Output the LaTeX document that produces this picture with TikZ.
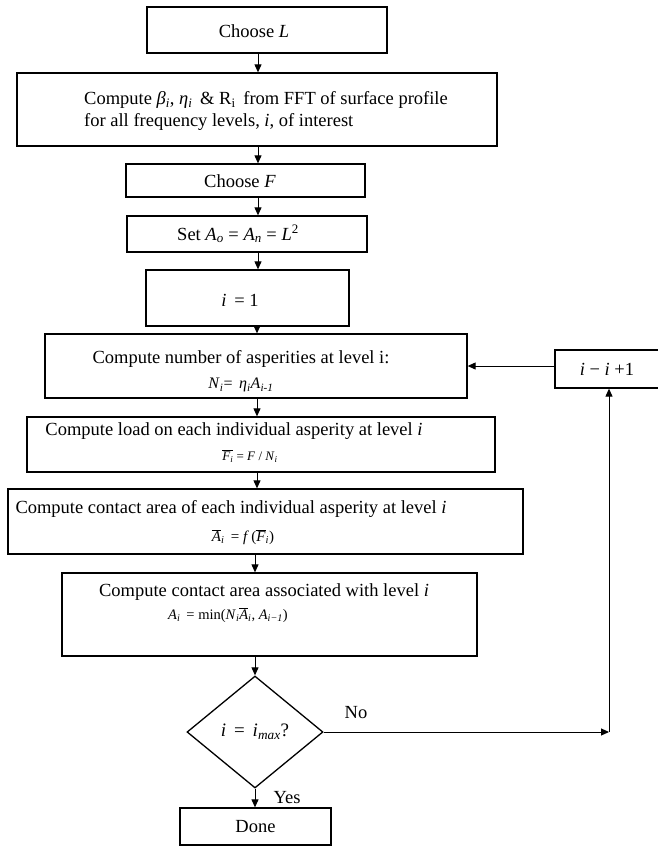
\documentclass[tikz,border=0pt]{standalone}
\usepackage{fontspec}
\setmainfont{Liberation Serif}
\usetikzlibrary{shapes.geometric,arrows.meta}
\newcommand{\vv}[1]{\textit{#1}}
\newcommand{\sbi}[1]{\textsubscript{\textit{#1}}}
\newcommand{\ovl}[1]{$\overline{\mbox{#1}}$}
\begin{document}
\begin{tikzpicture}[x=1pt,y=-1pt,
  box/.style={draw,line width=1.3pt,rectangle,inner sep=0pt},
  txt/.style={inner sep=0pt,align=center,font=\fontsize{18.5}{22}\selectfont},
  frm/.style={inner sep=0pt,font=\fontsize{#1}{#1}\selectfont},
  arr/.style={line width=1pt,-{Triangle[length=8pt,width=7pt]}}]
\useasboundingbox (0,0) rectangle (658,846);
% boxes
\node[box,minimum width=240pt,minimum height=46pt] (L) at (267,30) {};
\node[box,minimum width=480pt,minimum height=73pt] (beta) at (257,109.5) {};
\node[box,minimum width=239pt,minimum height=33pt] (F) at (245.5,180.5) {};
\node[box,minimum width=240pt,minimum height=36pt] (A0) at (247,234) {};
\node[box,minimum width=203pt,minimum height=56pt] (i1) at (247.5,298) {};
\node[box,minimum width=422pt,minimum height=64pt] (num) at (256,366) {};
\node[box,minimum width=468pt,minimum height=55pt] (load) at (261,444.5) {};
\node[box,minimum width=515pt,minimum height=65pt] (each) at (265.5,521.5) {};
\node[box,minimum width=415pt,minimum height=83pt] (assoc) at (269.5,614.5) {};
\node[draw,diamond,line width=1.3pt,inner sep=0pt,minimum width=136pt,minimum height=112pt,font=\fontsize{19}{22}\selectfont] (dia) at (255,732)
  {\vv{i} \,= \,\vv{i}\sbi{max}?};
\node[box,txt,minimum width=151pt,minimum height=37pt] (done) at (255.5,826.5) {Done};
\node[box,txt,minimum width=104pt,minimum height=38pt] (inc) at (607,369) {\vv{i} − \vv{i} +1};
% texts
\node[txt] (Lt) at (254,31) {Choose \vv{L}};
\node[txt,align=left] (betat) at (266,111)
  {Compute \vv{β}\sbi{i}, \vv{η}\sbi{i} \,\& R\textsubscript{i} \,from FFT of surface profile\\for all frequency levels, \vv{i}, of interest};
\node[txt] (Ft) at (240,181) {Choose \vv{F}};
\node[txt] (A0t) at (238,234) {Set \vv{A}\sbi{o} = \vv{A}\sbi{n} = \vv{L}\textsuperscript{2}};
\node[txt] (i1t) at (240,300) {\vv{i} \,= 1};
\node[txt] (numt) at (241,359) {Compute number of asperities at level i:};
\node[frm=16] (numf) at (241,385) {\vv{N}\sbi{i}= \,\vv{η}\sbi{i}\vv{A}\sbi{i-1}};
\node[txt] (loadt) at (234,431) {Compute load on each individual asperity at level \vv{i}};
\node[frm=13] (loadf) at (250,456) {\ovl{\vv{F}\sbi{i}} = \vv{F} / \vv{N}\sbi{i}};
\node[txt] (eacht) at (231,509) {Compute contact area of each individual asperity at level \vv{i}};
\node[frm=15] (eachf) at (243,537) {\ovl{\vv{A}}\sbi{i} \,= \vv{f}\,(\ovl{\vv{F}}\sbi{i})};
\node[txt] (assoct) at (264,592) {Compute contact area associated with level \vv{i}};
\node[frm=14.5] (assocf) at (228,615) {\vv{A}\sbi{i} \,= min(\vv{N}\sbi{i}\ovl{\vv{A}}\sbi{i}, \vv{A}\sbi{i−1})};
\node[txt] (no) at (356,713) {No};
\node[txt] (yes) at (287,798) {Yes};
% connectors
\coordinate (sp1) at (258,0);
\coordinate (sp2) at (257,0);
\coordinate (sp3) at (255,0);
\coordinate (corner) at (609,732);
\draw[arr] (L.south -| sp1) -- (beta.north -| sp1);
\draw[arr] (beta.south -| sp1) -- (F.north -| sp1);
\draw[arr] (F.south -| sp1) -- (A0.north -| sp1);
\draw[arr] (A0.south -| sp1) -- (i1.north -| sp1);
\draw[arr] (i1.south -| sp2) -- (num.north -| sp2);
\draw[arr] (num.south -| sp2) -- (load.north -| sp2);
\draw[arr] (load.south -| sp2) -- (each.north -| sp2);
\draw[arr] (each.south -| sp3) -- (assoc.north -| sp3);
\draw[arr] (assoc.south -| sp3) -- (dia.north);
\draw[arr] (dia.south) -- (done.north -| sp3);
\draw[arr] (dia.east) -- (corner);
\draw[arr] (corner) -- (corner |- inc.south);
\draw[arr] (inc.west |- num.east) -- (num.east);
\end{tikzpicture}
\end{document}
